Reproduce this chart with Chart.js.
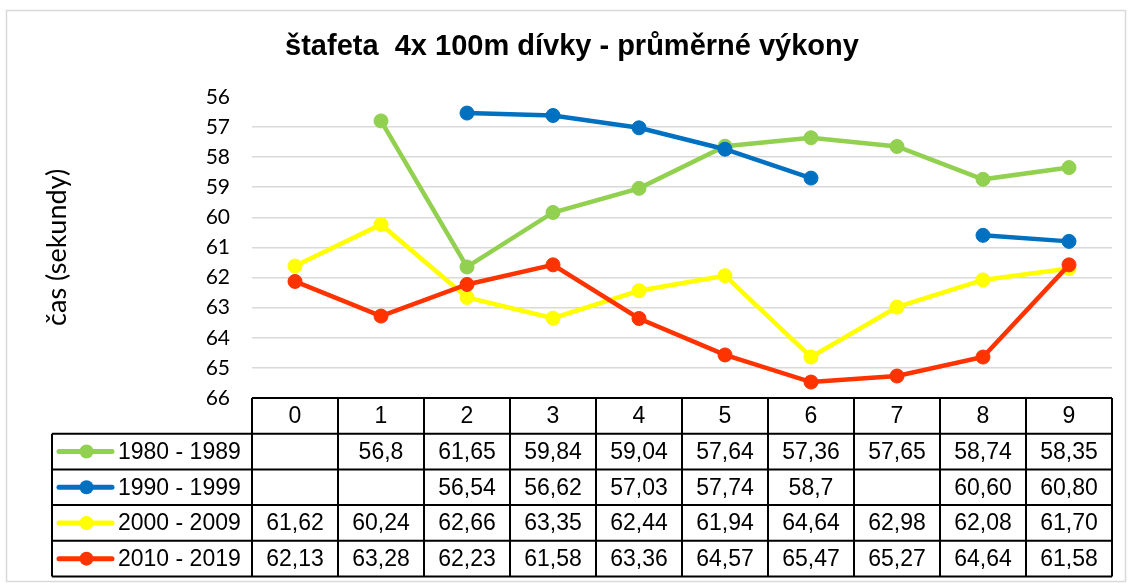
<!DOCTYPE html>
<html>
<head>
<meta charset="utf-8">
<script src="https://cdn.jsdelivr.net/npm/chart.js@4"></script>
<style>
  html, body { margin: 0; padding: 0; background: #fff; }
  canvas { display: block; }
</style>
</head>
<body>
<canvas id="c" width="1130" height="583"></canvas>
<script>
// ---- data ----
const categories = ['0', '1', '2', '3', '4', '5', '6', '7', '8', '9'];
const seriesNames = ['1980 - 1989', '1990 - 1999', '2000 - 2009', '2010 - 2019'];
const values1980 = [null, 56.8, 61.65, 59.84, 59.04, 57.64, 57.36, 57.65, 58.74, 58.35];
const values1990 = [null, null, 56.54, 56.62, 57.03, 57.74, 58.7, null, 60.60, 60.80];
const values2000 = [61.62, 60.24, 62.66, 63.35, 62.44, 61.94, 64.64, 62.98, 62.08, 61.70];
const values2010 = [62.13, 63.28, 62.23, 61.58, 63.36, 64.57, 65.47, 65.27, 64.64, 61.58];
const labels1980 = ['', '56,8', '61,65', '59,84', '59,04', '57,64', '57,36', '57,65', '58,74', '58,35'];
const labels1990 = ['', '', '56,54', '56,62', '57,03', '57,74', '58,7', '', '60,60', '60,80'];
const labels2000 = ['61,62', '60,24', '62,66', '63,35', '62,44', '61,94', '64,64', '62,98', '62,08', '61,70'];
const labels2010 = ['62,13', '63,28', '62,23', '61,58', '63,36', '64,57', '65,47', '65,27', '64,64', '61,58'];
const yMin = 56, yMax = 66;
const titleText = 'štafeta  4x 100m dívky - průměrné výkony';
const yTitleText = 'čas (sekundy)';

const colors = ['#92D050', '#0070C0', '#FFFF00', '#FF3300'];
const allValues = [values1980, values1990, values2000, values2010];
const allLabels = [labels1980, labels1990, labels2000, labels2010];

const datasets = allValues.map((vals, i) => ({
  label: seriesNames[i],
  data: vals,
  borderColor: colors[i],
  backgroundColor: colors[i],
  pointBackgroundColor: colors[i],
  pointBorderColor: colors[i],
  borderWidth: 4.5,
  pointRadius: 7,
  pointBorderWidth: 1,
  tension: 0,
  spanGaps: false,
  order: 4 - i
}));

const TABLE_FONT = '23px "Liberation Sans", Arial, sans-serif';
const PAD_LEFT = 32;

const backgroundPlugin = {
  id: 'bg',
  beforeDraw(chart) {
    const ctx = chart.ctx;
    ctx.save();
    ctx.fillStyle = '#ffffff';
    ctx.fillRect(0, 0, chart.width, chart.height);
    ctx.strokeStyle = '#d9d9d9';
    ctx.lineWidth = 1.5;
    ctx.strokeRect(6.5, 10.5, 1119, 571);
    ctx.restore();
  }
};

const tablePlugin = {
  id: 'dataTable',
  afterDraw(chart) {
    const ctx = chart.ctx;
    const xs = chart.scales.x;
    const area = chart.chartArea;
    const n = categories.length;
    const colW = (xs.right - xs.left) / n;
    const top = area.bottom;
    const rowH = 35.7;
    const legendLeft = 52;
    const right = xs.right;
    ctx.save();
    ctx.strokeStyle = '#000';
    ctx.lineWidth = 2;
    ctx.beginPath();
    ctx.moveTo(xs.left, top);
    ctx.lineTo(right, top);
    for (let r = 1; r <= 5; r++) {
      const y = top + r * rowH;
      ctx.moveTo(legendLeft, y);
      ctx.lineTo(right, y);
    }
    for (let c = 0; c <= n; c++) {
      const x = xs.left + c * colW;
      ctx.moveTo(x, top);
      ctx.lineTo(x, top + 5 * rowH);
    }
    ctx.moveTo(legendLeft, top + rowH);
    ctx.lineTo(legendLeft, top + 5 * rowH);
    ctx.stroke();

    ctx.fillStyle = '#000';
    ctx.font = TABLE_FONT;
    ctx.textAlign = 'center';
    ctx.textBaseline = 'middle';
    for (let c = 0; c < n; c++) {
      const cx = xs.getPixelForValue(c);
      ctx.fillText(categories[c], cx, top + rowH / 2 + 1);
      for (let s = 0; s < allLabels.length; s++) {
        const t = allLabels[s][c];
        if (t) ctx.fillText(t, cx, top + (s + 1.5) * rowH + 1);
      }
    }
    for (let s = 0; s < seriesNames.length; s++) {
      const cy = top + (s + 1.5) * rowH;
      ctx.strokeStyle = colors[s];
      ctx.lineWidth = 5;
      ctx.lineCap = 'round';
      ctx.beginPath();
      ctx.moveTo(59, cy);
      ctx.lineTo(112, cy);
      ctx.stroke();
      ctx.fillStyle = colors[s];
      ctx.beginPath();
      ctx.arc(86.5, cy, 7, 0, Math.PI * 2);
      ctx.fill();
      ctx.fillStyle = '#000';
      ctx.textAlign = 'left';
      ctx.fillText(seriesNames[s], 118, cy + 1);
    }
    ctx.restore();
  }
};

new Chart(document.getElementById('c'), {
  type: 'line',
  data: { labels: categories, datasets },
  options: {
    responsive: false,
    animation: false,
    devicePixelRatio: 1,
    layout: { padding: { left: PAD_LEFT, right: 18, top: 10, bottom: 185 } },
    plugins: {
      legend: { display: false },
      tooltip: { enabled: false },
      title: {
        display: true,
        text: titleText,
        color: '#000',
        font: { family: '"Liberation Sans", Arial, sans-serif', size: 29, weight: 'bold', lineHeight: 1.2 },
        padding: { top: 20, bottom: 32 }
      }
    },
    scales: {
      x: {
        type: 'category',
        display: false,
        offset: true
      },
      y: {
        min: yMin,
        max: yMax,
        reverse: true,
        afterFit(scale) { scale.width = 252 - PAD_LEFT; },
        ticks: {
          stepSize: 1,
          padding: 22,
          color: '#000',
          font: { family: 'Lato, sans-serif', size: 21 }
        },
        grid: {
          drawTicks: false,
          lineWidth: 1.5,
          color: (c) => (c.tick && (c.tick.value === yMin || c.tick.value === yMax)) ? 'rgba(0,0,0,0)' : '#d9d9d9'
        },
        border: { display: false },
        title: {
          display: true,
          text: yTitleText,
          color: '#000',
          font: { family: 'Lato, sans-serif', size: 27, lineHeight: 1.2 },
          padding: { top: 9, bottom: 0 }
        }
      }
    }
  },
  plugins: [backgroundPlugin, tablePlugin]
});
</script>
</body>
</html>
